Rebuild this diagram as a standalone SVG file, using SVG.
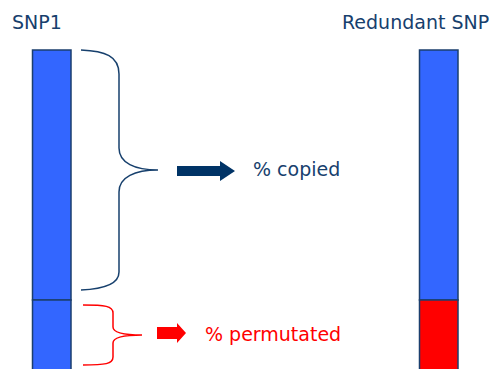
<svg xmlns="http://www.w3.org/2000/svg" width="491" height="369" viewBox="0 0 491 369">
  <style>
    .lbl { font-family: "DejaVu Sans", Verdana, sans-serif; font-size: 19px; fill: #17406d; }
    .red { fill: #ff0000; }
    .bar { fill: #3366ff; stroke: #1b3f6e; stroke-width: 1.5; }
    .cut { fill: #ff0000; stroke: #1b3f6e; stroke-width: 1.5; }
    .brace { fill: none; stroke: #17406d; stroke-width: 1.5; }
    .brace-red { fill: none; stroke: #ff0000; stroke-width: 1.5; }
  </style>

  <!-- SNP1 column -->
  <g id="snp1">
    <text class="lbl" x="12" y="29">SNP1</text>
    <rect class="bar" x="32.5" y="50" width="38.5" height="250"/>
    <rect class="bar" x="32.5" y="300" width="38.5" height="80"/>
  </g>

  <!-- Redundant SNP column -->
  <g id="redundant-snp">
    <text class="lbl" x="342" y="29">Redundant SNP</text>
    <rect class="bar" x="419.5" y="50" width="38.5" height="250"/>
    <rect class="cut" x="419.5" y="300" width="38.5" height="80"/>
  </g>

  <!-- Copied portion -->
  <g id="copied">
    <path class="brace" d="M81 50 C105 51 119 56 119 74 L119 148 C119 163 135 170 158 170 C135 170 119 177 119 192 L119 272 C119 284 105 289 81 290"/>
    <polygon fill="#003366" points="177,166 220,166 220,161 235,171 220,181 220,176 177,176"/>
    <text class="lbl" x="253" y="176">% copied</text>
  </g>

  <!-- Permutated portion -->
  <g id="permutated">
    <path class="brace-red" d="M83 305 C105 305 113 306 113 313 L113 327 C113 333 125 335 142 335 C125 335 113 337 113 343 L113 357 C113 364 105 365 83 365"/>
    <polygon fill="#ff0000" points="157,327 177,327 177,323 186,333 177,343 177,339 157,339"/>
    <text class="lbl red" x="205" y="341">% permutated</text>
  </g>
</svg>
